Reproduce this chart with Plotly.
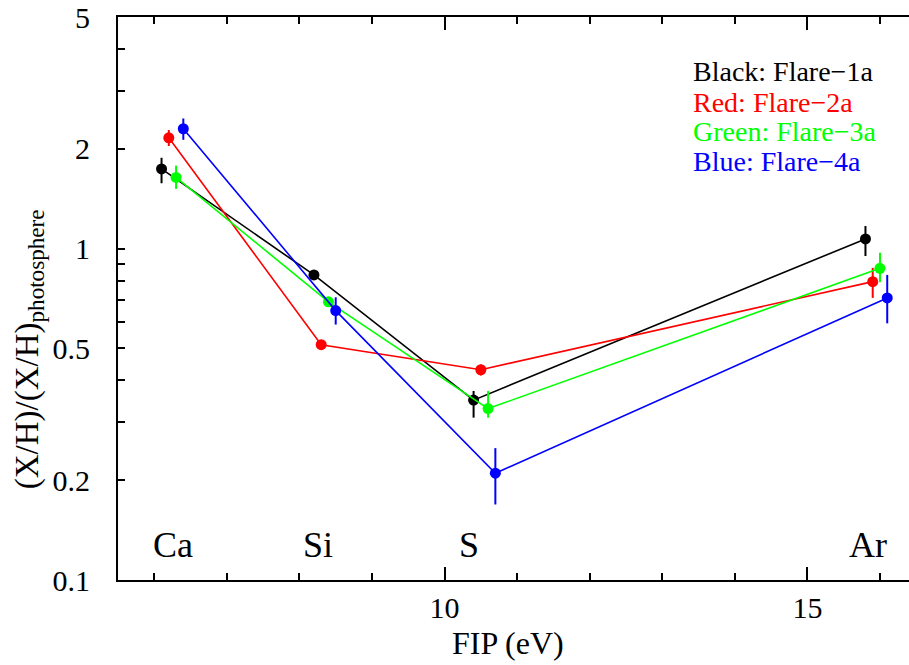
import plotly.graph_objects as go

# First ionisation potentials (eV) of the elements, and per-flare plotting offsets
elements = ["Ca", "Si", "S", "Ar"]
fip = [6.1, 8.2, 10.4, 15.8]
flare_names = ["Flare−1a", "Flare−2a", "Flare−3a", "Flare−4a"]
color_names = ["Black", "Red", "Green", "Blue"]
colors = ["#000000", "#ff0000", "#00ff00", "#0000ff"]
fip_shift = [0.0, 0.1, 0.2, 0.3]

# Abundance relative to photosphere and its uncertainty (upper, lower)
abund_1a = [1.74, 0.833, 0.349, 1.07]
err_up_1a = [0.14, 0.02, 0.023, 0.10]
err_dn_1a = [0.165, 0.02, 0.040, 0.12]

abund_2a = [2.16, 0.513, 0.431, 0.795]
err_up_2a = [0.12, 0.015, 0.016, 0.08]
err_dn_2a = [0.12, 0.015, 0.017, 0.085]

abund_3a = [1.64, 0.691, 0.329, 0.872]
err_up_3a = [0.14, 0.02, 0.043, 0.10]
err_dn_3a = [0.125, 0.02, 0.020, 0.08]

abund_4a = [2.30, 0.650, 0.210, 0.710]
err_up_4a = [0.17, 0.063, 0.040, 0.123]
err_dn_4a = [0.17, 0.060, 0.041, 0.115]

abund = [abund_1a, abund_2a, abund_3a, abund_4a]
err_up = [err_up_1a, err_up_2a, err_up_3a, err_up_4a]
err_dn = [err_dn_1a, err_dn_2a, err_dn_3a, err_dn_4a]

y_ticks = [0.1, 0.2, 0.5, 1, 2, 5]
y_tick_text = ["0.1", "0.2", "0.5", "1", "2", "5"]
y_minor = [0.3, 0.4, 0.6, 0.7, 0.8, 0.9, 3, 4]
y_decades = [0.1, 1]

FONT = "Liberation Serif"

fig = go.Figure()
for k in range(4):
    fig.add_trace(go.Scatter(
        x=[f + fip_shift[k] for f in fip],
        y=abund[k],
        mode="lines+markers",
        line=dict(color=colors[k], width=1.6),
        marker=dict(color=colors[k], size=11),
        error_y=dict(type="data", symmetric=False, array=err_up[k],
                     arrayminus=err_dn[k], color=colors[k], thickness=2, width=0),
        name=flare_names[k],
        showlegend=False,
    ))

axis_common = dict(
    showline=True, linecolor="black", linewidth=2,
    ticks="inside", tickcolor="black", tickwidth=1.5,
    showgrid=False, zeroline=False,
    tickfont=dict(family=FONT, size=30, color="black"),
    ticklabeloverflow="allow",
)

fig.update_layout(
    width=909, height=665,
    margin=dict(l=118, r=0, t=15, b=85),
    paper_bgcolor="white", plot_bgcolor="white",
    font=dict(family=FONT, color="black"),
    xaxis=dict(
        range=[5.5, 16.4], tick0=0, dtick=5, ticklen=13, mirror="allticks",
        minor=dict(dtick=1, tick0=0, ticklen=7, ticks="inside", tickcolor="black", tickwidth=1.5),
        ticklabelstandoff=0,
        **axis_common,
    ),
    yaxis=dict(
        type="log", range=[-1, 0.69897], tickmode="array",
        tickvals=y_ticks, ticktext=y_tick_text, ticklen=7,
        minor=dict(tickmode="array", tickvals=y_minor, ticklen=7, ticks="inside",
                   tickcolor="black", tickwidth=1.5),
        ticklabelstandoff=20,
        **axis_common,
    ),
    yaxis2=dict(
        type="log", range=[-1, 0.69897], overlaying="y", side="left",
        tickmode="array", tickvals=y_decades, ticklen=12, ticks="inside",
        tickcolor="black", tickwidth=1.5, showticklabels=False,
        showline=False, showgrid=False, zeroline=False,
    ),
)

# Element names along the bottom of the panel
label_x = [6.26, 8.26, 10.33, 15.84]
for name, lx in zip(elements, label_x):
    fig.add_annotation(x=lx, y=-0.895, xref="x", yref="y", text=name, showarrow=False,
                       font=dict(family=FONT, size=36, color="black"),
                       xanchor="center", yanchor="middle")

# Colour key
key_y = [0.9027, 0.8478, 0.7965, 0.7434]
for k in range(4):
    fig.add_annotation(x=0.724, y=key_y[k], xref="paper", yref="paper",
                       text=f"{color_names[k]}: {flare_names[k]}", showarrow=False,
                       font=dict(family=FONT, size=28, color=colors[k]),
                       xanchor="left", yanchor="middle")

# Axis titles
fig.add_annotation(x=0.493, y=-0.1115, xref="paper", yref="paper", text="FIP (eV)",
                   showarrow=False, font=dict(family=FONT, size=32, color="black"),
                   xanchor="center", yanchor="middle")
fig.add_annotation(x=-0.112, y=0.4106, xref="paper", yref="paper",
                   text="(X/H)/(X/H)<sub>photosphere</sub>", textangle=-90,
                   showarrow=False, font=dict(family=FONT, size=33, color="black"),
                   xanchor="center", yanchor="middle")

fig.write_html("out.html")
